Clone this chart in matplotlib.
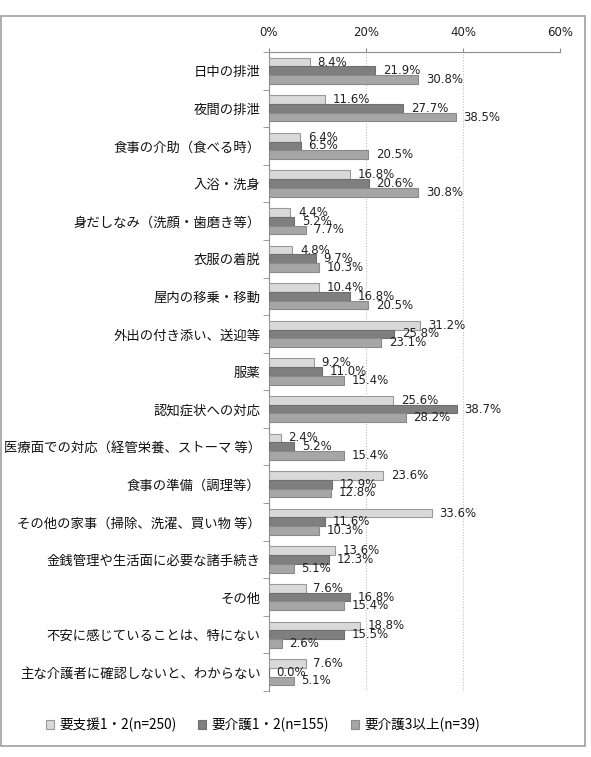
import matplotlib
matplotlib.use("Agg")
import matplotlib.pyplot as plt
import numpy as np
from matplotlib.patches import Rectangle

plt.rcParams['font.family'] = ['Noto Sans CJK JP', 'DejaVu Sans']

categories = [
    "日中の排泄",
    "夜間の排泄",
    "食事の介助（食べる時）",
    "入浴・洗身",
    "身だしなみ（洗顔・歯磨き等）",
    "衣服の着脱",
    "屋内の移乗・移動",
    "外出の付き添い、送迎等",
    "服薬",
    "認知症状への対応",
    "医療面での対応（経管栄養、ストーマ 等）",
    "食事の準備（調理等）",
    "その他の家事（掃除、洗濯、買い物 等）",
    "金銭管理や生活面に必要な諸手続き",
    "その他",
    "不安に感じていることは、特にない",
    "主な介護者に確認しないと、わからない",
]
series_names = ["要支援1・2(n=250)", "要介護1・2(n=155)", "要介護3以上(n=39)"]
s1 = [8.4, 11.6, 6.4, 16.8, 4.4, 4.8, 10.4, 31.2, 9.2, 25.6, 2.4, 23.6, 33.6, 13.6, 7.6, 18.8, 7.6]
s2 = [21.9, 27.7, 6.5, 20.6, 5.2, 9.7, 16.8, 25.8, 11.0, 38.7, 5.2, 12.9, 11.6, 12.3, 16.8, 15.5, 0.0]
s3 = [30.8, 38.5, 20.5, 30.8, 7.7, 10.3, 20.5, 23.1, 15.4, 28.2, 15.4, 12.8, 10.3, 5.1, 15.4, 2.6, 5.1]
xticks = [0, 20, 40, 60]
xticklabels = ["0%", "20%", "40%", "60%"]

W, H = 591, 757
fig = plt.figure(figsize=(W / 100, H / 100), dpi=100)
ax = fig.add_axes([269 / W, 1 - 691 / H, (560 - 269) / W, (691 - 52) / H])

fills = ["#d9d9d9", "#7f7f7f", "#a6a6a6"]
edges = ["#9a9a9a", "#6f6f6f", "#8a8a8a"]
bh = 0.232
y = np.arange(len(categories))
for k, vals in enumerate([s1, s2, s3]):
    pos = y + (k - 1) * bh
    ax.barh(pos, vals, height=bh, color=fills[k], edgecolor=edges[k], linewidth=0.8,
            label=series_names[k], zorder=3)
    for p, v in zip(pos, vals):
        ax.annotate(f"{v:.1f}%", xy=(v, p), xytext=(5.5, 0), textcoords="offset points",
                    ha="left", va="center", fontsize=8.5, color="#222222",
                    family=['DejaVu Sans'], zorder=4)

ax.set_xlim(0, 60)
ax.set_ylim(len(categories) - 0.5, -0.5)
ax.xaxis.tick_top()
ax.set_xticks(xticks)
ax.set_xticklabels(xticklabels, fontsize=8.5, color="#222222", family=['DejaVu Sans'])
ax.tick_params(axis='x', direction='out', length=3, color="#8c8c8c", pad=6)
ax.set_yticks(y)
ax.set_yticklabels(categories, fontsize=9.6, color="#111111")
ax.tick_params(axis='y', which='major', length=0, pad=6)
ax.set_yticks(np.arange(-0.5, len(categories) + 0.5, 1), minor=True)
ax.tick_params(axis='y', which='minor', length=4, direction='out', color="#8c8c8c")
for xv in xticks[1:]:
    ax.axvline(xv, color="#bdbdbd", linestyle=(0, (1, 1.5)), linewidth=0.8, zorder=1)
for s in ["right", "bottom"]:
    ax.spines[s].set_visible(False)
for s in ["left", "top"]:
    ax.spines[s].set_color("#8c8c8c")
    ax.spines[s].set_linewidth(0.8)

leg = fig.legend(loc="center", bbox_to_anchor=(263 / W, 1 - 725 / H), ncol=3, frameon=False,
                 fontsize=9.8, handlelength=0.6, handleheight=0.6, handletextpad=0.4,
                 columnspacing=1.6)

# outer border
fig.add_artist(Rectangle((1 / W, 1 - 746 / H), (585 - 1) / W, (746 - 16) / H,
                         transform=fig.transFigure, fill=False, edgecolor="#a0a0a0",
                         linewidth=1.2))

fig.savefig("out.png", dpi=100, facecolor="white")
